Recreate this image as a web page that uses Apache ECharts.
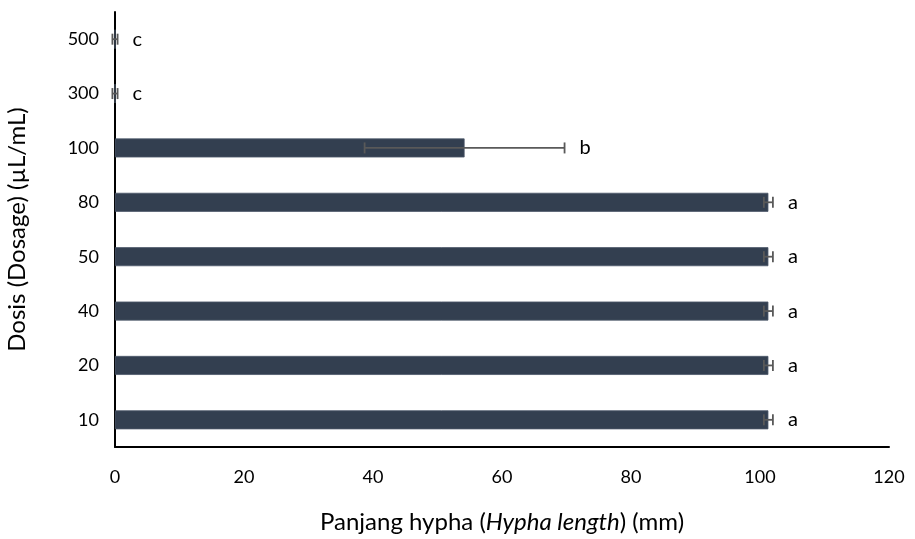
<!DOCTYPE html>
<html>
<head>
<meta charset="utf-8">
<script src="https://cdn.jsdelivr.net/npm/echarts@6/dist/echarts.min.js"></script>
<style>html,body{margin:0;padding:0;background:#fff}#c{width:915px;height:539px}</style>
</head>
<body>
<div id="c"></div>
<script>
const categories = ['10', '20', '40', '50', '80', '100', '300', '500'];
const meanLength = [101.3, 101.3, 101.3, 101.3, 101.3, 54.2, 0, 0];
const errorLength = [0.7, 0.7, 0.7, 0.7, 0.7, 15.5, 0.4, 0.4];
const letters = ['a', 'a', 'a', 'a', 'a', 'b', 'c', 'c'];
const xTicks = [0, 20, 40, 60, 80, 100, 120];

const FONT = 'Lato';
const chart = echarts.init(document.getElementById('c'), null, {renderer: 'canvas'});
const errData = categories.map((c, i) => [i, meanLength[i], errorLength[i], letters[i]]);

chart.setOption({
  animation: false,
  grid: {left: 115, right: 26, top: 12, bottom: 92, containLabel: false, outerBoundsMode: 'none'},
  xAxis: {
    type: 'value', min: xTicks[0], max: xTicks[xTicks.length - 1], interval: 20,
    axisLine: {show: true, lineStyle: {color: '#000', width: 2}},
    axisTick: {show: false},
    splitLine: {show: false},
    axisLabel: {color: '#000', fontSize: 18, fontFamily: FONT, margin: 21},
    name: '{n|Panjang hypha (}{i|Hypha length}{n|) (mm)}',
    nameLocation: 'middle', nameGap: 63,
    nameTextStyle: {
      rich: {
        n: {fontSize: 24, fontFamily: FONT, color: '#000'},
        i: {fontSize: 24, fontFamily: FONT, color: '#000', fontStyle: 'italic'}
      }
    }
  },
  yAxis: {
    type: 'category', data: categories,
    axisLine: {show: true, lineStyle: {color: '#000', width: 2}},
    axisTick: {show: false},
    axisLabel: {color: '#000', fontSize: 18, fontFamily: FONT, margin: 16},
    name: 'Dosis (Dosage) (µL/mL)', nameLocation: 'middle', nameGap: 86,
    nameTextStyle: {fontSize: 24, fontFamily: FONT, color: '#000'}
  },
  series: [
    {
      type: 'bar', data: meanLength, barWidth: 19,
      itemStyle: {color: '#333f50', borderColor: '#4d586a', borderWidth: 0.8}
    },
    {
      type: 'custom', data: errData, z: 5, clip: false,
      renderItem: function (params, api) {
        const i = api.value(0), m = api.value(1), e = api.value(2);
        const lo = api.coord([m - e, i]);
        const hi = api.coord([m + e, i]);
        const y = lo[1];
        const h = 5.5;
        const col = '#595959';
        return {
          type: 'group',
          children: [
            {type: 'line', shape: {x1: lo[0], y1: y, x2: hi[0], y2: y}, style: {stroke: col, lineWidth: 1.8}},
            {type: 'line', shape: {x1: lo[0], y1: y - h, x2: lo[0], y2: y + h}, style: {stroke: col, lineWidth: 1.8}},
            {type: 'line', shape: {x1: hi[0], y1: y - h, x2: hi[0], y2: y + h}, style: {stroke: col, lineWidth: 1.8}},
            {type: 'text', x: hi[0] + 15, y: y, style: {text: letters[i], fill: '#000', fontSize: 20, fontFamily: FONT, align: 'left', verticalAlign: 'middle'}}
          ]
        };
      }
    }
  ]
});
</script>
</body>
</html>
